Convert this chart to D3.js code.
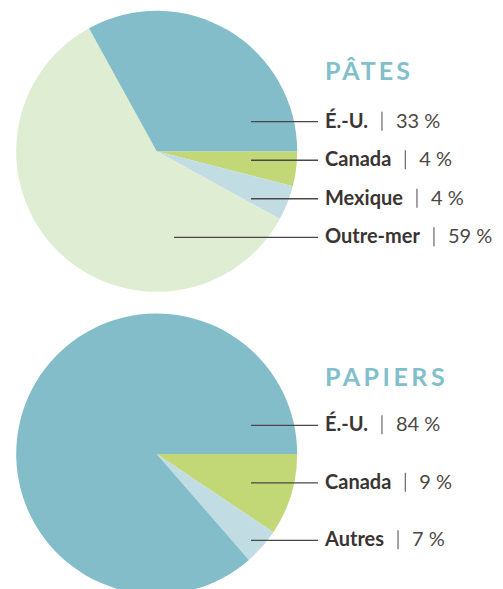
<!DOCTYPE html>
<html>
<head>
<meta charset="utf-8">
<script src="https://cdn.jsdelivr.net/npm/d3@7"></script>
<style>
  body { margin: 0; background: #fff; }
  svg { display: block; font-family: Lato, "Open Sans", sans-serif; }
</style>
</head>
<body>
<div id="chart"></div>
<script>
// pâtes
var pates_cats   = ['É.-U.', 'Canada', 'Mexique', 'Outre-mer'];
var pates_pct    = [33, 4, 4, 59];          // printed labels
var pates_slices = [33, 4, 4, 59];          // slice sizes as drawn

// papiers
var papiers_cats   = ['É.-U.', 'Canada', 'Autres'];
var papiers_pct    = [84, 9, 7];            // printed labels
var papiers_slices = [86.4, 9.4, 4.2];      // slice sizes as drawn in the picture

var colors = {
  'É.-U.'     : '#83bdc9',
  'Canada'    : '#c2d776',
  'Mexique'   : '#c1dce2',
  'Autres'    : '#c1dce2',
  'Outre-mer' : '#dfedd3'
};

// slices go clockwise from 3 o'clock, É.-U. last
var slice_order = {
  'Canada': 0, 'Mexique': 1, 'Autres': 1, 'Outre-mer': 2, 'É.-U.': 3
};

var w = 503, h = 589;
var svg = d3.select('#chart').append('svg')
  .attr('width', w)
  .attr('height', h);

function draw_block(opts) {
  var rows = opts.cats.map(function(c, i) {
    return { cat: c, pct: opts.pct[i], slice: opts.slices[i] };
  });
  var ordered = rows.slice().sort(function(a, b) {
    return slice_order[a.cat] - slice_order[b.cat];
  });

  var pie = d3.pie()
    .sort(null)
    .value(function(d) { return d.slice; })
    .startAngle(Math.PI / 2)
    .endAngle(Math.PI / 2 + 2 * Math.PI);

  var arc = d3.arc().innerRadius(0).outerRadius(opts.r);

  var g = svg.append('g')
    .attr('transform', 'translate(' + opts.cx + ',' + opts.cy + ')');

  g.selectAll('path')
    .data(pie(ordered))
    .enter().append('path')
    .attr('d', arc)
    .attr('fill', function(d) { return colors[d.data.cat]; });

  // title
  svg.append('text')
    .attr('x', opts.label_x)
    .attr('y', opts.title_y)
    .attr('fill', '#80bfcb')
    .attr('font-size', 25)
    .attr('font-weight', 700)
    .attr('letter-spacing', opts.title_spacing)
    .text(opts.title);

  // rows with leader lines
  var y = d3.scalePoint()
    .domain(opts.cats)
    .range([opts.row_y0, opts.row_y1]);

  rows.forEach(function(r) {
    var ly = y(r.cat);
    var base = ly + 6;
    svg.append('line')
      .attr('x1', r.cat == 'Outre-mer' ? 174 : 251)
      .attr('x2', 318)
      .attr('y1', ly)
      .attr('y2', ly)
      .attr('stroke', '#4b4746')
      .attr('stroke-width', 1.3);

    var lab = svg.append('text')
      .attr('x', opts.label_x)
      .attr('y', base)
      .attr('font-size', 20)
      .attr('font-weight', 700)
      .attr('fill', '#3a3432')
      .text(r.cat);
    var end = opts.label_x + lab.node().getComputedTextLength();

    // separator
    svg.append('line')
      .attr('x1', end + 14)
      .attr('x2', end + 14)
      .attr('y1', base - 16)
      .attr('y2', base + 3)
      .attr('stroke', '#6a6564')
      .attr('stroke-width', 1.2);

    svg.append('text')
      .attr('x', end + 28)
      .attr('y', base)
      .attr('font-size', 20)
      .attr('font-weight', 400)
      .attr('fill', '#4d4846')
      .text(r.pct + ' %');
  });
}

draw_block({
  title: 'PÂTES',
  title_y: 80,
  title_spacing: 3,
  cats: pates_cats,
  pct: pates_pct,
  slices: pates_slices,
  cx: 156.7, cy: 151.3, r: 140.5,
  label_x: 325,
  row_y0: 121.7, row_y1: 237.3
});

draw_block({
  title: 'PAPIERS',
  title_y: 386,
  title_spacing: 3.5,
  cats: papiers_cats,
  pct: papiers_pct,
  slices: papiers_slices,
  cx: 156.7, cy: 454, r: 140.5,
  label_x: 325,
  row_y0: 425.3, row_y1: 540.3
});
</script>
</body>
</html>
